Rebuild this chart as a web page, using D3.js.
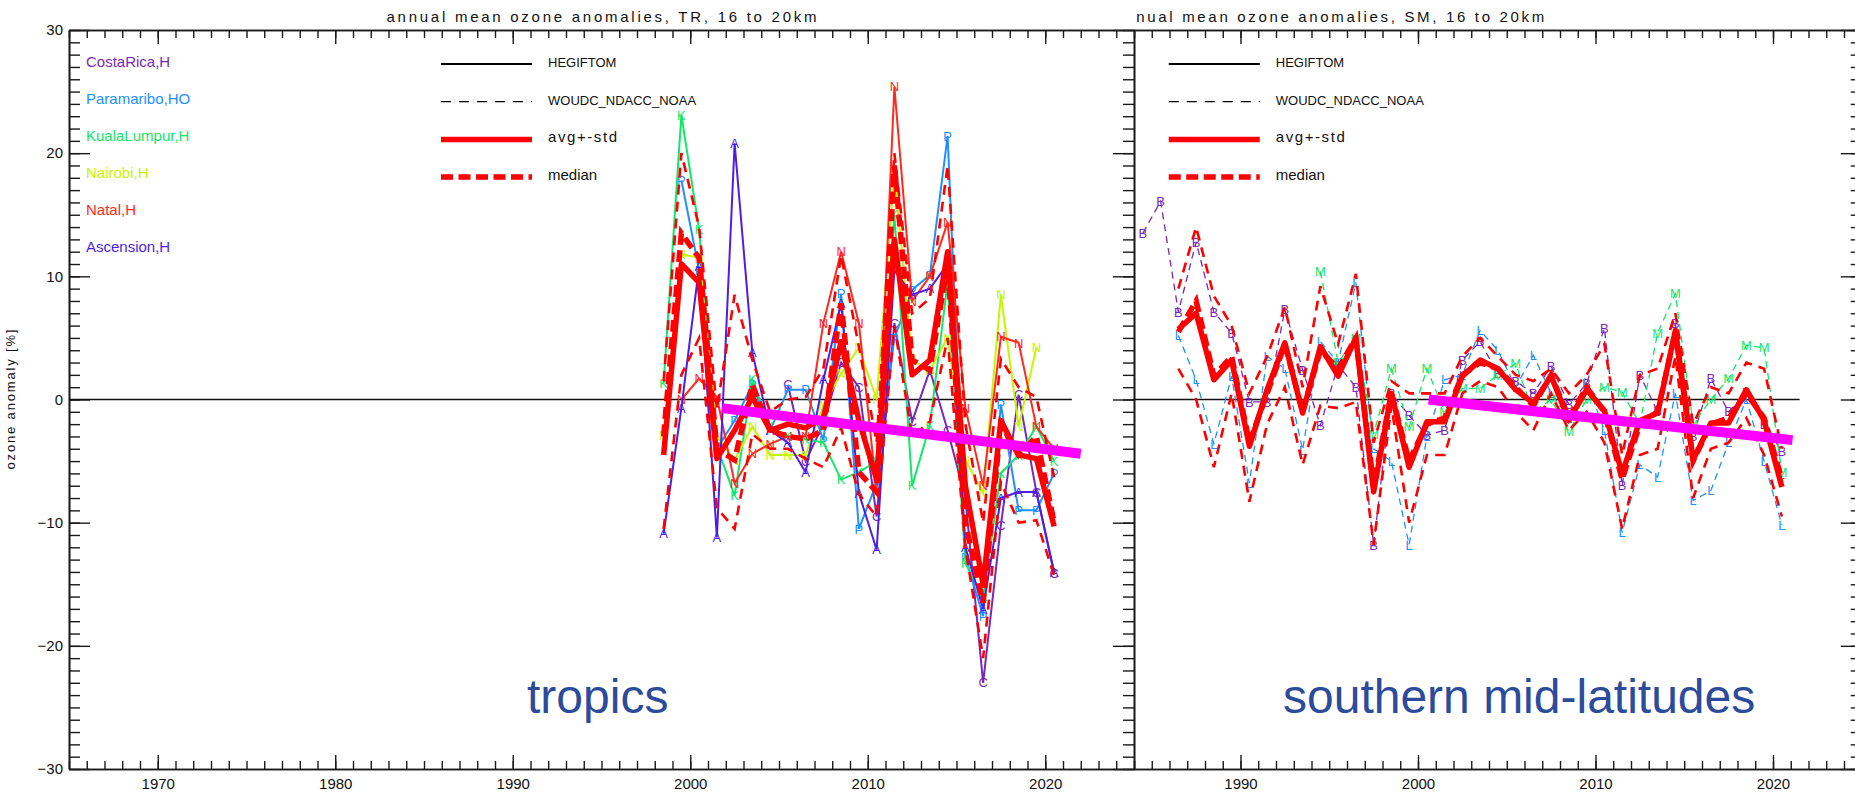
<!DOCTYPE html>
<html>
<head>
<meta charset="utf-8">
<script src="https://cdn.jsdelivr.net/npm/d3@7"></script>
<style>
	body { margin: 0; background: #fff; }
	svg { display: block; font-family: 'Liberation Sans', Arial, sans-serif; }
</style>
</head>
<body>
<div id="chart"></div>
<script>
/**
 * Data (annual means, drawn at mid-year)
 * */

// tropics, 16 to 20km
const trYears = [1998, 1999, 2000, 2001, 2002, 2003, 2004, 2005, 2006, 2007, 2008, 2009,
	2010, 2011, 2012, 2013, 2014, 2015, 2016, 2017, 2018, 2019, 2020]

const costaRica = [null, null, null, null, null, null, null, 1.2, -5.0, -2.0, 3.0, 1.0,
	-9.5, 6.2, -1.8, 2.4, -2.5, -8.0, -23.0, -10.2, 0.4, -7.5, -14.1]
const paramaribo = [null, 17.8, 10.5, -4.0, -1.7, 1.2, -2.5, 0.8, 0.8, -3.3, 8.6, -10.5,
	-6.8, 5.0, 8.9, 10.1, 21.4, -12.8, -17.6, -0.4, -9.0, -9.0, -6.0]
const kualaLumpur = [1.3, 23.1, 13.8, -3.8, -7.8, 1.6, -2.2, -3.0, -3.2, -3.5, -6.5, -5.9,
	-5.0, 15.0, -7.0, -2.1, 9.5, -13.3, -16.0, -6.0, -4.5, -2.2, -5.0]
const nairobi = [-2.9, 11.8, 11.5, -3.0, -4.9, -2.2, -4.5, -4.5, -4.5, -0.5, 2.1, 4.2,
	0.0, 18.4, 3.2, 2.4, 5.0, -4.9, -7.6, 8.5, -2.2, 4.2, null]
const natal = [null, 0.0, 1.7, 0.2, -6.8, -4.4, -3.6, -3.0, -3.0, 6.2, 12.0, 6.2,
	-7.5, 25.4, 8.0, 10.0, 14.4, -0.7, -7.0, 5.1, 4.6, -2.2, -4.0]
const ascension = [-10.9, -0.7, 10.8, -11.2, 20.8, 3.8, -2.5, -3.5, -5.9, 1.6, 7.8, -7.6,
	-12.2, 10.5, 8.5, 9.0, 11.0, -12.0, -17.0, -8.0, -7.5, -7.5, -14.0]

const trAvg = [-4.5, 11.0, 9.5, -4.8, -2.5, 0.2, -2.5, -2.0, -2.3, -1.5, 4.7, -1.7,
	-6.5, 13.0, 2.0, 3.2, 12.0, -7.0, -15.0, -1.7, -4.5, -4.8, -10.3]
const trMedian = [-3.0, 13.5, 11.5, -4.0, -4.9, 1.2, -2.5, -3.0, -3.2, -2.5, 7.8, -5.9,
	-7.5, 19.0, 3.2, 2.4, 11.0, -10.0, -16.5, -2.0, -4.5, -3.0, -10.0]
const trUpper = [1.5, 20.0, 14.0, -0.8, 8.5, 3.2, -1.0, 0.0, 0.2, 2.5, 11.7, 4.3,
	-3.5, 20.0, 7.0, 8.2, 19.0, -2.0, -10.0, 3.3, 1.0, 0.2, -6.3]
const trLower = [-10.5, 2.0, 5.0, -8.8, -10.5, -2.8, -4.0, -4.0, -4.8, -5.5, -2.3, -7.7,
	-9.5, 6.0, -3.0, -1.8, 5.0, -12.0, -21.0, -6.7, -10.0, -9.8, -14.3]

const trTrendYears = [2001.8, 2022.0]
const trTrendValues = [-0.7, -4.4]

// southern mid-latitudes, 16 to 20km
const smYears = [1984, 1985, 1986, 1987, 1988, 1989, 1990, 1991, 1992, 1993, 1994, 1995,
	1996, 1997, 1998, 1999, 2000, 2001, 2002, 2003, 2004, 2005, 2006, 2007, 2008, 2009,
	2010, 2011, 2012, 2013, 2014, 2015, 2016, 2017, 2018, 2019, 2020]

const smB = [13.5, 16.1, 7.1, 12.8, 7.1, 5.4, -0.2, -0.2, 7.3, 2.4, -2.1, 2.8,
	1.0, -11.8, 0.5, -1.3, -2.9, -2.5, 3.2, 4.7, 2.1, 1.5, 0.5, 2.7, -0.4, 1.3,
	5.8, -7.0, 2.0, -1.0, 6.2, -3.0, 1.7, -1.0, 0.6, -2.0, -4.2]
const smL = [null, null, 5.2, 1.6, -3.6, 1.9, -6.8, 3.5, 2.5, -4.1, 4.7, 3.0,
	9.5, -4.0, -5.0, -11.8, -3.0, 1.6, 2.0, 5.6, 4.0, 1.0, 3.6, 0.5, -1.5, 1.4,
	-2.5, -10.8, -5.3, -6.3, 0.5, -8.2, -7.4, -3.5, 0.0, -5.0, -10.2]
const smM = [null, null, null, null, null, null, null, null, null, null, 10.4, 3.0,
	5.0, -2.8, 2.5, -2.2, 2.5, -1.0, 0.9, 0.9, 2.0, 2.9, -1.0, 0.0, -2.6, 0.0,
	1.0, 0.6, -2.0, 5.4, 8.6, -2.0, 0.0, 1.7, 4.4, 4.2, -5.9]

const smAvg = [null, null, 5.7, 7.0, 1.6, 3.2, -3.8, 0.8, 4.6, -1.1, 4.3, 1.9,
	5.0, -7.5, 0.5, -5.5, -1.8, -1.8, 1.9, 3.2, 2.5, 0.8, -0.3, 1.9, -1.7, 0.8,
	-0.9, -6.0, -1.7, -1.1, 5.6, -4.9, -1.9, -1.9, 0.8, -1.7, -7.1]
const smMedian = [null, null, 5.5, 8.0, 1.9, 3.5, -3.5, 0.5, 4.5, -1.0, 4.0, 2.5,
	5.0, -7.0, 0.5, -5.0, -2.0, -1.5, 2.0, 3.0, 2.5, 1.0, -0.5, 2.0, -1.5, 1.0,
	-1.0, -6.5, -2.0, -1.0, 5.5, -5.0, -2.0, -1.5, 0.5, -1.5, -6.5]
const smUpper = [null, null, 9.0, 14.0, 8.4, 6.0, 0.5, 3.5, 7.5, 1.0, 9.2, 4.5,
	10.2, -3.5, 1.5, 0.5, 0.5, 0.5, 3.5, 5.0, 3.5, 2.0, 1.5, 2.5, 0.5, 2.0,
	4.5, -4.5, 2.0, 2.5, 7.0, -2.0, 1.0, 0.5, 3.0, 2.5, -4.0]
const smLower = [null, null, 2.5, 0.0, -5.5, 0.5, -8.3, -2.0, 1.0, -5.3, -0.5, -0.7,
	-0.2, -11.8, -0.5, -10.0, -4.5, -4.5, 0.5, 1.5, 1.0, -1.0, -2.5, 0.5, -2.5, -1.0,
	-3.5, -10.5, -4.5, -4.0, 3.5, -8.0, -4.0, -3.5, -1.5, -4.5, -9.5]

const smTrendYears = [2000.6, 2021.1]
const smTrendValues = [0.0, -3.3]

// axis ticks and legend texts
const xMajorTicks = [1970, 1980, 1990, 2000, 2010, 2020]
const yMajorTicks = [-30, -20, -10, 0, 10, 20, 30]
const lineLegend = ['HEGIFTOM', 'WOUDC_NDACC_NOAA', 'avg+-std', 'median']


/**
 * Layout
 * */

const width = 1855
const height = 792
const plotLeft = 69
const plotRight = 1134
const plotTop = 30
const plotBottom = 769
const fontFamily = "'Liberation Sans', Arial, sans-serif"

const x = d3.scaleLinear().domain([1965, 2025]).range([plotLeft, plotRight])
const y = d3.scaleLinear().domain([-30, 30]).range([plotBottom, plotTop])

// the right plot is the same frame, slid over so that 1984 sits on the shared edge
const shift = plotRight - x(1984)

const panels = [
	{
		title: 'annual mean ozone anomalies, TR, 16 to 20km',
		years: trYears,
		dash: null,
		stations: [
			{name: 'CostaRica,H', mark: 'C', color: '#7a28b8', values: costaRica},
			{name: 'Paramaribo,HO', mark: 'P', color: '#2190ff', values: paramaribo},
			{name: 'KualaLumpur,H', mark: 'K', color: '#12e868', values: kualaLumpur},
			{name: 'Nairobi,H', mark: 'N', color: '#c6f500', values: nairobi},
			{name: 'Natal,H', mark: 'N', color: '#ff2a1e', values: natal},
			{name: 'Ascension,H', mark: 'A', color: '#4d1ee6', values: ascension}
		],
		avg: trAvg, median: trMedian, upper: trUpper, lower: trLower,
		trend: trTrendYears.map((yr, i) => ({year: yr, v: trTrendValues[i]}))
	},
	{
		title: 'annual mean ozone anomalies, SM, 16 to 20km',
		years: smYears,
		dash: '7,5',
		stations: [
			{mark: 'B', color: '#7a28b8', values: smB},
			{mark: 'L', color: '#2190ff', values: smL},
			{mark: 'M', color: '#12e868', values: smM}
		],
		avg: smAvg, median: smMedian, upper: smUpper, lower: smLower,
		trend: smTrendYears.map((yr, i) => ({year: yr, v: smTrendValues[i]}))
	}
]

const $svg = d3.select('#chart')
	.append('svg')
	.attr('width', width)
	.attr('height', height)

$svg.append('rect').attr('width', width).attr('height', height).attr('fill', '#fff')

$svg.append('clipPath')
	.attr('id', 'rightClip')
	.append('rect')
	.attr('x', plotRight)
	.attr('y', 0)
	.attr('width', width - plotRight)
	.attr('height', height)

const line = d3.line()
	.defined(d => d.v != null)
	.x(d => x(d.year + 0.5))
	.y(d => y(d.v))

const trendLine = d3.line()
	.x(d => x(d.year))
	.y(d => y(d.v))

const toPoints = (years, values) => years.map((yr, i) => ({year: yr, v: values[i]}))

// one side of the frame, ticks pointing inwards like the original
const addAxis = ($g, axis, transform) => {
	const $a = $g.append('g')
		.attr('transform', transform)
		.call(axis)
		.attr('font-size', 15) // after .call, the axis sets its own 10px
		.attr('font-family', fontFamily)
	$a.select('.domain').attr('stroke', '#1a1a1a').attr('stroke-width', 1.6)
	$a.selectAll('.tick line').attr('stroke', '#1a1a1a').attr('stroke-width', 1.4)
	$a.selectAll('.tick text').attr('fill', '#111')
	return $a
}

const drawFrame = ($g, title) => {
	const minorX = d3.range(1965, 2026)
	const minorY = d3.range(-30, 31)

	addAxis($g, d3.axisTop(x).tickValues(minorX).tickSize(-8).tickSizeOuter(0).tickFormat(''), `translate(0,${plotTop})`)
	addAxis($g, d3.axisTop(x).tickValues(xMajorTicks).tickSize(-14).tickSizeOuter(0).tickFormat(''), `translate(0,${plotTop})`)
	addAxis($g, d3.axisBottom(x).tickValues(minorX).tickSize(-8).tickSizeOuter(0).tickFormat(''), `translate(0,${plotBottom})`)
	addAxis($g, d3.axisBottom(x).tickValues(xMajorTicks).tickSize(-14).tickSizeOuter(0)
		.tickFormat(d3.format('d')).tickPadding(9), `translate(0,${plotBottom})`)

	addAxis($g, d3.axisLeft(y).tickValues(minorY).tickSize(-11).tickSizeOuter(0).tickFormat(''), `translate(${plotLeft},0)`)
	addAxis($g, d3.axisLeft(y).tickValues(yMajorTicks).tickSize(-21).tickSizeOuter(0)
		.tickFormat(d3.format('d')).tickPadding(6), `translate(${plotLeft},0)`)
	addAxis($g, d3.axisRight(y).tickValues(minorY).tickSize(-11).tickSizeOuter(0).tickFormat(''), `translate(${plotRight},0)`)
	addAxis($g, d3.axisRight(y).tickValues(yMajorTicks).tickSize(-21).tickSizeOuter(0).tickFormat(''), `translate(${plotRight},0)`)

	// title, letters spread out like the IDL font
	$g.append('text')
		.attr('x', (plotLeft + plotRight) / 2)
		.attr('y', 22)
		.attr('text-anchor', 'middle')
		.attr('font-size', 15)
		.attr('textLength', 430)
		.attr('lengthAdjust', 'spacing')
		.attr('fill', '#111')
		.text(title)

	$g.append('text')
		.attr('transform', `translate(15,${y(0)}) rotate(-90)`)
		.attr('text-anchor', 'middle')
		.attr('font-size', 13)
		.attr('textLength', 140)
		.attr('lengthAdjust', 'spacing')
		.attr('fill', '#111')
		.text('ozone anomaly [%]')
}

const drawPanel = ($g, p) => {
	drawFrame($g, p.title)

	// zero line
	$g.append('line')
		.attr('x1', x(1965)).attr('x2', x(2021.5))
		.attr('y1', y(0)).attr('y2', y(0))
		.attr('stroke', '#111')
		.attr('stroke-width', 1.3)

	// stations, each with its letter on every point
	p.stations.forEach(s => {
		const pts = toPoints(p.years, s.values)
		$g.append('path')
			.datum(pts)
			.attr('d', line)
			.attr('fill', 'none')
			.attr('stroke', s.color)
			.attr('stroke-width', p.dash ? 1.3 : 2)
			.attr('stroke-dasharray', p.dash)

		$g.append('g')
			.selectAll('text')
			.data(pts.filter(d => d.v != null))
			.join('text')
			.attr('x', d => x(d.year + 0.5))
			.attr('y', d => y(d.v))
			.attr('dy', '0.36em')
			.attr('text-anchor', 'middle')
			.attr('font-size', 13)
			.attr('fill', s.color)
			.text(s.mark)
	})

	// avg +- std envelope
	;[p.upper, p.lower].forEach(vals => {
		$g.append('path')
			.datum(toPoints(p.years, vals))
			.attr('d', line)
			.attr('fill', 'none')
			.attr('stroke', '#ff0000')
			.attr('stroke-width', 2.6)
			.attr('stroke-dasharray', '10,7')
	})

	$g.append('path')
		.datum(toPoints(p.years, p.median))
		.attr('d', line)
		.attr('fill', 'none')
		.attr('stroke', '#ff0000')
		.attr('stroke-width', 5.5)
		.attr('stroke-dasharray', '12,5.5')

	$g.append('path')
		.datum(toPoints(p.years, p.avg))
		.attr('d', line)
		.attr('fill', 'none')
		.attr('stroke', '#ff0000')
		.attr('stroke-width', 5.5)
		.attr('stroke-linejoin', 'round')

	// trend
	$g.append('path')
		.datum(p.trend)
		.attr('d', trendLine)
		.attr('stroke', '#ff00ff')
		.attr('stroke-width', 10)

	// line style legend
	const styles = [
		{color: '#000', w: 1.8, dash: null, size: 13},
		{color: '#000', w: 1.3, dash: '10,8', size: 13},
		{color: '#ff0000', w: 5.5, dash: null, size: 15, len: 69},
		{color: '#ff0000', w: 5.5, dash: '12,5.5', size: 15}
	]
	const $legend = $g.append('g')
	lineLegend.forEach((label, i) => {
		const st = styles[i]
		$legend.append('line')
			.attr('x1', 441).attr('x2', 532)
			.attr('y1', 64 + i * 37.7).attr('y2', 64 + i * 37.7)
			.attr('stroke', st.color)
			.attr('stroke-width', st.w)
			.attr('stroke-dasharray', st.dash)
		const $t = $legend.append('text')
			.attr('x', 548)
			.attr('y', 67 + i * 37.5)
			.attr('font-size', st.size)
			.attr('fill', '#111')
			.text(label)
		if (st.len) $t.attr('textLength', st.len).attr('lengthAdjust', 'spacing')
	})

	// station names
	p.stations.filter(s => s.name).forEach((s, i) => {
		$legend.append('text')
			.attr('x', 86)
			.attr('y', 67 + i * 37)
			.attr('font-size', 15)
			.attr('fill', s.color)
			.text(s.name)
	})
}

const $left = $svg.append('g')
drawPanel($left, panels[0])

const $right = $svg.append('g').attr('clip-path', 'url(#rightClip)')
	.append('g')
	.attr('transform', `translate(${shift},0)`)
drawPanel($right, panels[1])

// region names
const regions = [
	{label: 'tropics', x: 527},
	{label: 'southern mid-latitudes', x: 1283}
]
$svg.selectAll('.region')
	.data(regions)
	.join('text')
	.attr('class', 'region')
	.attr('x', d => d.x)
	.attr('y', 713)
	.attr('font-size', 48)
	.attr('fill', '#2d4b9b')
	.text(d => d.label)
</script>
</body>
</html>
